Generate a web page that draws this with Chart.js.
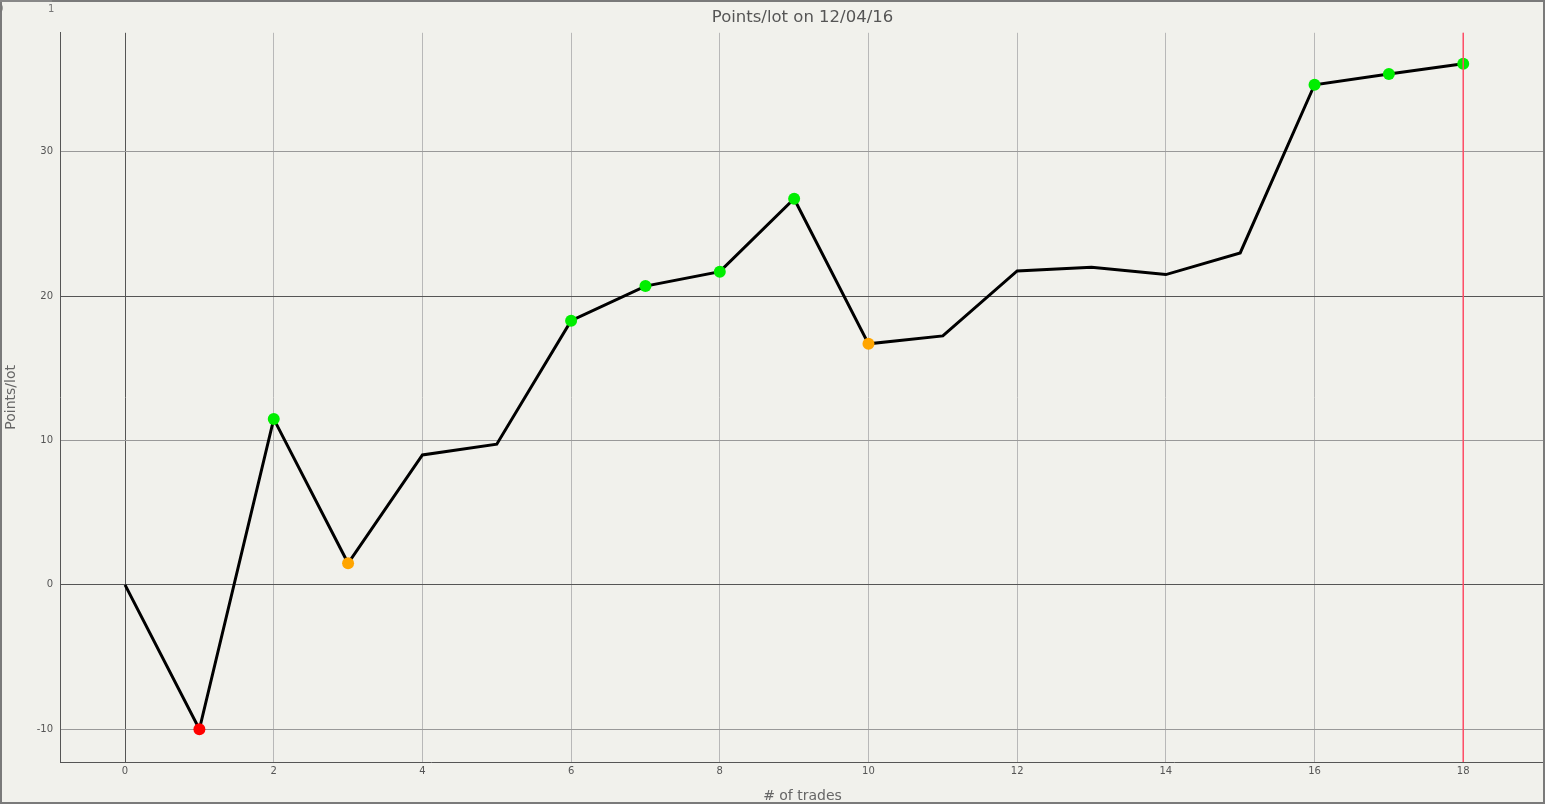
<!DOCTYPE html>
<html>
<head>
<meta charset="utf-8">
<script src="https://cdn.jsdelivr.net/npm/chart.js@4/dist/chart.umd.min.js"></script>
<style>
  html, body { margin: 0; padding: 0; background: #f1f1ec; }
  canvas { display: block; }
</style>
</head>
<body>
<canvas id="tradesChart" width="1545" height="804"></canvas>
<script>
// data
const trades = [0, 1, 2, 3, 4, 5, 6, 7, 8, 9, 10, 11, 12, 13, 14, 15, 16, 17, 18];
const pointsPerLot = [0, -10, 11.5, 1.5, 9, 9.75, 18.3, 20.7, 21.7, 26.75, 16.7, 17.25, 21.75, 22, 21.5, 23, 34.65, 35.4, 36.1];
const markerColors = [null, "#ff0000", "#00ee00", "#ffa500", null, null, "#00ee00", "#00ee00", "#00ee00", "#00ee00",
  "#ffa500", null, null, null, null, null, "#00ee00", "#00ee00", "#00ee00"];
const xTicks = [0, 2, 4, 6, 8, 10, 12, 14, 16, 18];
const yTicks = [-10, 0, 10, 20, 30];
const sessionDate = "12/04/16";
const currentTrade = 18;

// frame, background and the little "0 1" strip in the corner
const framePlugin = {
  id: "frame",
  beforeDraw(chart) {
    const ctx = chart.ctx;
    ctx.save();
    ctx.fillStyle = "#f1f1ec";
    ctx.fillRect(0, 0, chart.width, chart.height);
    ctx.restore();
  },
  afterDraw(chart) {
    const ctx = chart.ctx;
    ctx.save();
    ctx.strokeStyle = "#7a7a7a";
    ctx.lineWidth = 2;
    ctx.strokeRect(1, 1, chart.width - 2, chart.height - 2);
    ctx.fillStyle = "#888";
    ctx.fillRect(0, 0, 52, 2);
    ctx.fillStyle = "#777";
    ctx.font = "10px 'DejaVu Sans'";
    ctx.textBaseline = "middle";
    ctx.fillText("0", -3, 9);
    ctx.fillText("1", 48, 9);
    ctx.restore();
  },
};

// red marker on the latest trade
const currentLinePlugin = {
  id: "currentLine",
  afterDatasetsDraw(chart) {
    const x = chart.scales.x.getPixelForValue(currentTrade);
    const area = chart.chartArea;
    const ctx = chart.ctx;
    ctx.save();
    ctx.strokeStyle = "#ff4d66";
    ctx.lineWidth = 1.5;
    ctx.beginPath();
    ctx.moveTo(x, area.top);
    ctx.lineTo(x, area.bottom);
    ctx.stroke();
    ctx.restore();
  },
};

const ctx = document.getElementById("tradesChart").getContext("2d");
new Chart(ctx, {
  type: "line",
  data: {
    datasets: [
      {
        data: trades.map((t, i) => ({ x: t, y: pointsPerLot[i] })),
        borderColor: "#000",
        borderWidth: 3,
        tension: 0,
        pointRadius: markerColors.map((c) => (c ? 6 : 0)),
        pointBackgroundColor: markerColors.map((c) => c || "transparent"),
        pointBorderWidth: 0,
        pointHoverRadius: 0,
      },
    ],
  },
  options: {
    responsive: false,
    animation: false,
    layout: { padding: 0, autoPadding: false },
    plugins: {
      legend: { display: false },
      tooltip: { enabled: false },
      title: {
        display: true,
        fullSize: false,
        text: "Points/lot on " + sessionDate,
        color: "#555",
        font: { family: "'DejaVu Sans'", size: 16.5, weight: "normal" },
        padding: { top: 8, bottom: 5 },
      },
    },
    scales: {
      x: {
        type: "linear",
        min: -0.875,
        max: 19.1,
        afterBuildTicks: (scale) => {
          scale.ticks = xTicks.map((v) => ({ value: v }));
        },
        afterFit: (scale) => {
          scale.height = 42;
          scale.paddingLeft = 0;
          scale.paddingRight = 0;
        },
        grid: {
          drawTicks: false,
          color: (c) => (c.tick && c.tick.value === 0 ? "#555" : "#b8b8b8"),
        },
        border: { display: true, color: "#555", width: 1 },
        ticks: {
          color: "#555",
          padding: 3,
          font: { family: "'DejaVu Sans'", size: 10 },
        },
        title: {
          display: true,
          text: "# of trades",
          color: "#666",
          font: { family: "'DejaVu Sans'", size: 14 },
          padding: { top: 0, bottom: -1 },
        },
      },
      y: {
        min: -12.27,
        max: 38.25,
        afterBuildTicks: (scale) => {
          scale.ticks = yTicks.map((v) => ({ value: v }));
        },
        afterFit: (scale) => {
          scale.width = 60;
          scale.paddingTop = 0;
          scale.paddingBottom = 0;
        },
        grid: {
          drawTicks: false,
          color: (c) => (c.tick && (c.tick.value === 0 || c.tick.value === 20) ? "#555" : "#999"),
        },
        border: { display: true, color: "#555", width: 1 },
        ticks: {
          color: "#555",
          padding: 7,
          font: { family: "'DejaVu Sans'", size: 10 },
        },
        title: {
          display: true,
          text: "Points/lot",
          color: "#666",
          font: { family: "'DejaVu Sans'", size: 14 },
          padding: { top: 3, bottom: 0 },
        },
      },
    },
  },
  plugins: [framePlugin, currentLinePlugin],
});
</script>
</body>
</html>
